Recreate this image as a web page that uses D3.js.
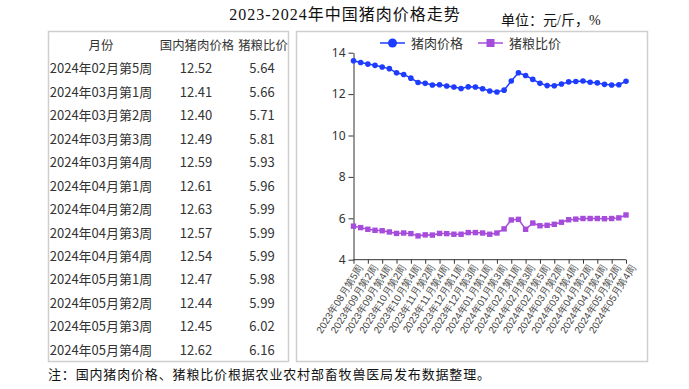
<!DOCTYPE html>
<html>
<head>
<meta charset="utf-8">
<script src="https://cdn.jsdelivr.net/npm/d3@7"></script>
<style>
  body { margin: 0; background: #fff; }
  svg { display: block; }
  .cn { font-family: "Noto Sans CJK SC", "Noto Sans", sans-serif; }
</style>
</head>
<body>
<script>
// weekly labels, 2023-08 wk5 .. 2024-05 wk4
const weeks = [
  "2023年08月第5周", "2023年09月第1周", "2023年09月第2周", "2023年09月第3周", "2023年09月第4周",
  "2023年10月第1周", "2023年10月第2周", "2023年10月第3周", "2023年10月第4周",
  "2023年11月第1周", "2023年11月第2周", "2023年11月第3周", "2023年11月第4周", "2023年11月第5周",
  "2023年12月第1周", "2023年12月第2周", "2023年12月第3周", "2023年12月第4周",
  "2024年01月第1周", "2024年01月第2周", "2024年01月第3周", "2024年01月第4周",
  "2024年02月第1周", "2024年02月第2周", "2024年02月第3周", "2024年02月第4周", "2024年02月第5周",
  "2024年03月第1周", "2024年03月第2周", "2024年03月第3周", "2024年03月第4周",
  "2024年04月第1周", "2024年04月第2周", "2024年04月第3周", "2024年04月第4周",
  "2024年05月第1周", "2024年05月第2周", "2024年05月第3周", "2024年05月第4周"
];
const porkPrice = [
  13.61, 13.53, 13.45, 13.39, 13.31, 13.23, 13.03, 12.95, 12.77, 12.56,
  12.52, 12.44, 12.45, 12.39, 12.34, 12.27, 12.35, 12.34, 12.26, 12.15,
  12.10, 12.19, 12.63, 13.03, 12.90, 12.71, 12.52, 12.41, 12.40, 12.49,
  12.59, 12.61, 12.63, 12.57, 12.54, 12.47, 12.44, 12.45, 12.62
];
const hogGrainRatio = [
  5.62, 5.55, 5.47, 5.42, 5.40, 5.34, 5.27, 5.29, 5.26, 5.15,
  5.20, 5.19, 5.27, 5.26, 5.23, 5.23, 5.31, 5.31, 5.29, 5.23,
  5.29, 5.49, 5.92, 5.95, 5.47, 5.77, 5.64, 5.66, 5.71, 5.81,
  5.93, 5.96, 5.99, 5.99, 5.99, 5.98, 5.99, 6.02, 6.16
];
const yTicks = [4, 6, 8, 10, 12, 14];
const tableHeader = ["月份", "国内猪肉价格", "猪粮比价"];
const tableStart = 26; // table lists the last 13 weeks
const seriesNames = ["猪肉价格", "猪粮比价"];

const blue = "#1e3cff";
const purple = "#a64cdb";
const serif = "'Liberation Serif', 'Noto Sans CJK SC', serif";

const svg = d3.select("body").append("svg")
  .attr("width", 689).attr("height", 389)
  .attr("class", "cn");

// title + unit
svg.append("text")
   .attr("x", 345).attr("y", 20)
   .attr("text-anchor", "middle")
   .style("font-family", serif)
   .style("font-size", "16px")
   .style("letter-spacing", "1px")
   .attr("fill", "#111")
   .text("2023-2024年中国猪肉价格走势");

svg.append("text")
   .attr("x", 501).attr("y", 25)
   .style("font-family", serif)
   .style("font-size", "14px")
   .attr("fill", "#111")
   .text("单位：元/斤，%");

// frames
svg.append("rect").attr("x", 48.5).attr("y", 31.5).attr("width", 240).attr("height", 330)
   .attr("fill", "none").attr("stroke", "#cfcfcf").attr("stroke-width", 1.5);
svg.append("rect").attr("x", 296.5).attr("y", 31.5).attr("width", 351).attr("height", 330)
   .attr("fill", "none").attr("stroke", "#cfcfcf").attr("stroke-width", 1.5);

// table
const colX = [101, 196, 262];
const rowY = d3.scaleLinear().domain([0, 13]).range([50, 354.8]);
const tableRows = weeks.slice(tableStart).map((w, i) => [
  w, porkPrice[tableStart + i].toFixed(2), hogGrainRatio[tableStart + i].toFixed(2)
]);

const tbl = svg.append("g").style("font-size", "13px").attr("fill", "#333");
tbl.selectAll("text.h")
   .data(tableHeader)
   .enter().append("text")
   .attr("class", "h")
   .attr("x", (d, i) => [101, 197, 263][i]).attr("y", rowY(0))
   .attr("text-anchor", "middle")
   .style("font-size", "12.4px")
   .text(d => d);

tableRows.forEach((r, ri) => {
  tbl.selectAll("text.r" + ri)
     .data(r)
     .enter().append("text")
     .attr("x", (d, i) => colX[i]).attr("y", rowY(ri + 1))
     .attr("text-anchor", "middle")
     .text(d => d);
});

// chart
const x = d3.scalePoint().domain(weeks).range([353.5, 626]);
const y = d3.scaleLinear().domain([4, 14]).range([259.7, 52.7]);

const g = svg.append("g");

g.append("g")
 .attr("transform", "translate(353.5,0)")
 .call(d3.axisLeft(y).tickValues(yTicks).tickSize(5).tickSizeOuter(0))
 .call(a => a.selectAll("text").style("font-size", "12px").attr("fill", "#333").style("font-family", "'Noto Sans', sans-serif"))
 .call(a => a.selectAll("line,path").attr("stroke", "#333"));

g.append("g")
 .attr("transform", "translate(0,259.7)")
 .call(d3.axisBottom(x).tickValues(weeks.filter((d, i) => i % 2 === 0)).tickSize(4).tickSizeOuter(0))
 .call(a => a.select(".domain").attr("d", `M${x.range()[0]},0H${x.range()[1]}`))
 .call(a => a.selectAll("line,path").attr("stroke", "#333"))
 .call(a => a.selectAll("text")
   .style("font-size", "10px").attr("fill", "#444")
   .attr("text-anchor", "end")
   .attr("dx", "0.2em").attr("dy", "0.3em")
   .attr("transform", "translate(0,4) rotate(-58)"));

const linePork = d3.line().x((d, i) => x(weeks[i])).y(d => y(d));

g.append("path").datum(porkPrice)
 .attr("d", linePork).attr("fill", "none").attr("stroke", blue).attr("stroke-width", 1.5);
g.selectAll("circle.pork").data(porkPrice).enter().append("circle")
 .attr("class", "pork")
 .attr("cx", (d, i) => x(weeks[i])).attr("cy", d => y(d))
 .attr("r", 2.8).attr("fill", blue);

g.append("path").datum(hogGrainRatio)
 .attr("d", linePork).attr("fill", "none").attr("stroke", purple).attr("stroke-width", 1.5);
g.selectAll("rect.ratio").data(hogGrainRatio).enter().append("rect")
 .attr("class", "ratio")
 .attr("x", (d, i) => x(weeks[i]) - 2.7).attr("y", d => y(d) - 2.7)
 .attr("width", 5.4).attr("height", 5.4).attr("fill", purple);

// legend
const legend = svg.append("g").style("font-size", "13px").attr("fill", "#333");
const legX = [380, 478];
seriesNames.forEach((name, i) => {
  const lg = legend.append("g").attr("transform", `translate(${legX[i]},43)`);
  lg.append("line").attr("x1", 0).attr("x2", 25).attr("stroke", i ? purple : blue).attr("stroke-width", 1.5);
  if (i === 0) {
    lg.append("circle").attr("cx", 12.5).attr("r", 4.5).attr("fill", blue);
  } else {
    lg.append("rect").attr("x", 8.5).attr("y", -4).attr("width", 8).attr("height", 8).attr("fill", purple);
  }
  lg.append("text").attr("x", 31).attr("y", 5).text(name);
});

// footnote
svg.append("text")
   .attr("x", 48).attr("y", 379)
   .style("font-family", serif)
   .style("font-size", "13px")
   .attr("fill", "#111")
   .attr("textLength", 442)
   .text("注：国内猪肉价格、猪粮比价根据农业农村部畜牧兽医局发布数据整理。");
</script>
</body>
</html>
